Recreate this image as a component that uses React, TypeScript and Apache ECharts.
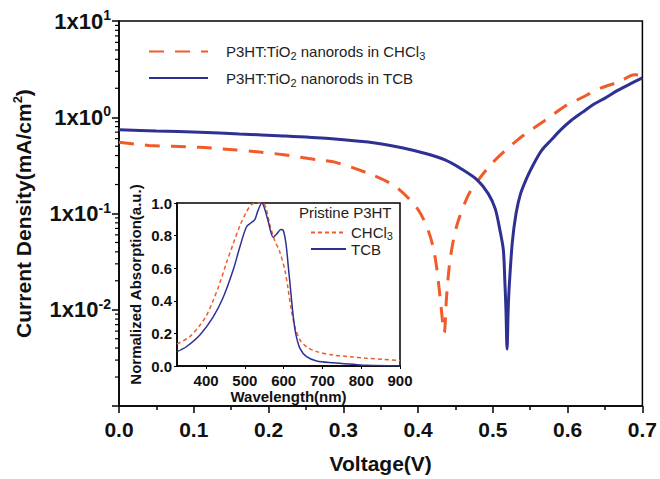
import React, { useEffect, useRef } from 'react';
import * as echarts from 'echarts';

const FONT = '"Liberation Sans", Arial, Helvetica, sans-serif';
const ORANGE = '#F15A29';
const BLUE = '#2E3192';

const NAME_CHCL3 = 'P3HT:TiO2 nanorods in CHCl3';
const NAME_TCB = 'P3HT:TiO2 nanorods in TCB';
const INSET_CHCL3 = 'CHCl3';
const INSET_TCB = 'TCB';

// Main J-V curves (V, |J| in mA/cm^2)
const voltageCHCl3 = [0.0, 0.04, 0.072, 0.108, 0.152, 0.188, 0.218, 0.267, 0.29, 0.334, 0.37, 0.4, 0.414, 0.42, 0.425, 0.4295, 0.435, 0.438, 0.443, 0.452, 0.467, 0.48, 0.5, 0.534, 0.569, 0.6, 0.614, 0.645, 0.67, 0.689, 0.7];
const currentCHCl3 = [0.55, 0.51, 0.5, 0.487, 0.46, 0.435, 0.41, 0.36, 0.34, 0.26, 0.19, 0.11, 0.065, 0.045, 0.027, 0.0133, 0.0058, 0.0133, 0.034, 0.076, 0.154, 0.22, 0.34, 0.59, 0.92, 1.36, 1.53, 2.02, 2.35, 2.77, 2.7];

const voltageTCB = [0.0, 0.05, 0.108, 0.161, 0.22, 0.281, 0.347, 0.38, 0.41, 0.436, 0.458, 0.48, 0.494, 0.503, 0.509, 0.514, 0.516, 0.5175, 0.519, 0.5205, 0.522, 0.526, 0.531, 0.537, 0.545, 0.553, 0.565, 0.578, 0.59, 0.605, 0.62, 0.636, 0.65, 0.667, 0.685, 0.7];
const currentTCB = [0.74, 0.72, 0.7, 0.67, 0.64, 0.6, 0.535, 0.48, 0.42, 0.36, 0.29, 0.22, 0.16, 0.113, 0.07, 0.042, 0.02, 0.01, 0.0039, 0.01, 0.018, 0.05, 0.1, 0.16, 0.23, 0.31, 0.45, 0.58, 0.73, 0.93, 1.13, 1.38, 1.58, 1.9, 2.25, 2.57];

// Inset absorption spectra
const wavelengthCHCl3 = [325, 358, 384, 401, 418, 435, 452, 470, 487, 504, 517, 530, 547, 556, 564, 577, 590, 603, 612, 620, 629, 642, 659, 685, 728, 771, 814, 857, 900];
const absorptionCHCl3 = [0.135, 0.18, 0.25, 0.31, 0.4, 0.506, 0.63, 0.75, 0.86, 0.945, 0.99, 1.0, 1.0, 0.955, 0.87, 0.77, 0.7, 0.59, 0.465, 0.34, 0.24, 0.16, 0.118, 0.088, 0.067, 0.057, 0.047, 0.041, 0.033];

const wavelengthTCB = [325, 349, 384, 418, 444, 470, 487, 504, 517, 526, 534, 544, 551, 560, 573, 582, 593, 599, 606, 612, 618, 624, 631, 642, 659, 685, 728, 780, 814, 900];
const absorptionTCB = [0.088, 0.118, 0.19, 0.3, 0.42, 0.59, 0.73, 0.853, 0.88, 0.9, 0.955, 1.0, 0.965, 0.89, 0.79, 0.81, 0.837, 0.833, 0.75, 0.61, 0.465, 0.32, 0.2, 0.108, 0.057, 0.031, 0.02, 0.01, 0.004, 0.0];

const logMinorTicks = [0.002, 0.003, 0.004, 0.005, 0.006, 0.007, 0.008, 0.009, 0.02, 0.03, 0.04, 0.05, 0.06, 0.07, 0.08, 0.09, 0.2, 0.3, 0.4, 0.5, 0.6, 0.7, 0.8, 0.9, 2, 3, 4, 5, 6, 7, 8, 9];
const wavelengthTicks = [400, 500, 600, 700, 800, 900];

const zip = (xs: number[], ys: number[]) => xs.map((x, i) => [x, ys[i]]);

export default function App() {
  const ref = useRef<HTMLDivElement>(null);
  useEffect(() => {
    if (!ref.current) return;
    const chart = echarts.init(ref.current, null, { renderer: 'svg' });
    const option: any = {
      animation: false,
      backgroundColor: '#fff',
      textStyle: { fontFamily: FONT },
      grid: [
        { left: 119, right: 15, top: 21, bottom: 71, show: true, borderColor: '#000', borderWidth: 1.5, backgroundColor: 'transparent' },
        { left: 177, right: 260, top: 203, bottom: 113, show: true, borderColor: '#000', borderWidth: 1.5, backgroundColor: '#fff' },
      ],
      legend: [
        {
          data: [NAME_CHCL3, NAME_TCB],
          orient: 'vertical',
          left: 143,
          top: 39,
          itemWidth: 59,
          itemHeight: 14,
          itemGap: 9,
          itemStyle: { opacity: 0 },
          textStyle: {
            padding: [0, 0, 0, 13],
            rich: {
              a: { fontSize: 15, lineHeight: 20, color: '#222', fontFamily: FONT },
              sub: { fontSize: 11, lineHeight: 11, verticalAlign: 'bottom', color: '#222', fontFamily: FONT },
            },
          },
          formatter: (name: string) =>
            name === NAME_CHCL3
              ? '{a|P3HT:TiO}{sub|2}{a| nanorods in CHCl}{sub|3}'
              : '{a|P3HT:TiO}{sub|2}{a| nanorods in TCB}',
        },
        {
          data: [INSET_CHCL3, INSET_TCB],
          orient: 'vertical',
          left: 305,
          top: 220,
          itemWidth: 35,
          itemHeight: 10,
          itemGap: 0,
          itemStyle: { opacity: 0 },
          textStyle: {
            padding: [0, 0, 0, 0],
            rich: {
              a: { fontSize: 15, lineHeight: 18, color: '#222', fontFamily: FONT },
              sub: { fontSize: 11, lineHeight: 11, verticalAlign: 'bottom', color: '#222', fontFamily: FONT },
            },
          },
          formatter: (name: string) => (name === INSET_CHCL3 ? '{a|CHCl}{sub|3}' : '{a|TCB}'),
        },
      ],
      graphic: [
        {
          type: 'text',
          left: 299,
          top: 205,
          style: { text: 'Pristine P3HT', fontSize: 15, fontFamily: FONT, fill: '#222' },
        },
      ],
      xAxis: [
        {
          gridIndex: 0,
          type: 'value',
          min: 0,
          max: 0.7,
          interval: 0.1,
          name: 'Voltage(V)',
          nameLocation: 'middle',
          nameGap: 47,
          nameTextStyle: { fontSize: 21, fontWeight: 'bold', color: '#111', fontFamily: FONT },
          axisLine: { onZero: false, lineStyle: { color: '#000', width: 1.5 } },
          axisTick: { length: 7, lineStyle: { color: '#000', width: 1.5 } },
          minorTick: { show: true, splitNumber: 2, length: 4, lineStyle: { color: '#000', width: 1.5 } },
          splitLine: { show: false },
          axisLabel: { margin: 13, fontSize: 21, fontWeight: 'bold', color: '#111', fontFamily: FONT, formatter: (v: number) => v.toFixed(1) },
        },
        {
          gridIndex: 1,
          type: 'value',
          min: 325,
          max: 900,
          name: 'Wavelength(nm)',
          nameLocation: 'middle',
          nameGap: 21,
          nameTextStyle: { fontSize: 15, fontWeight: 'bold', color: '#111', fontFamily: FONT },
          axisLine: { onZero: false, lineStyle: { color: '#000', width: 1.5 } },
          axisTick: { show: true, length: 3, customValues: wavelengthTicks, lineStyle: { color: '#000' } },
          splitLine: { show: false },
          axisLabel: { margin: 7, fontSize: 15, fontWeight: 'bold', color: '#111', fontFamily: FONT, customValues: wavelengthTicks },
        },
      ],
      yAxis: [
        {
          gridIndex: 0,
          type: 'log',
          logBase: 10,
          min: 0.001,
          max: 10,
          name: '{a|Current Density(mA/cm}{s|2}{a|)}',
          nameLocation: 'middle',
          nameGap: 84,
          nameTextStyle: {
            rich: {
              a: { fontSize: 21, fontWeight: 'bold', lineHeight: 24, color: '#111', fontFamily: FONT },
              s: { fontSize: 13, fontWeight: 'bold', lineHeight: 13, verticalAlign: 'top', color: '#111', fontFamily: FONT },
            },
          },
          axisLine: { onZero: false, lineStyle: { color: '#000', width: 1.5 } },
          axisTick: { length: 7, lineStyle: { color: '#000', width: 1.5 } },
          splitLine: { show: false },
          axisLabel: {
            margin: 8,
            formatter: (v: number) => {
              const e = Math.round(Math.log10(v));
              if (e <= -3) return '';
              return `{b|1x10}{s|${e}}`;
            },
            rich: {
              b: { fontSize: 22, fontWeight: 'bold', lineHeight: 26, color: '#111', fontFamily: FONT },
              s: { fontSize: 14, fontWeight: 'bold', lineHeight: 14, verticalAlign: 'top', color: '#111', fontFamily: FONT },
            },
          },
        },
        {
          gridIndex: 1,
          type: 'value',
          min: 0,
          max: 1,
          interval: 0.2,
          name: 'Normalized Absorption(a.u.)',
          nameLocation: 'middle',
          nameGap: 34,
          nameTextStyle: { fontSize: 15, fontWeight: 'bold', color: '#111', fontFamily: FONT },
          axisLine: { onZero: false, lineStyle: { color: '#000', width: 1.5 } },
          axisTick: { length: 3, lineStyle: { color: '#000' } },
          splitLine: { show: false },
          axisLabel: { margin: 5, fontSize: 15, fontWeight: 'bold', color: '#111', fontFamily: FONT, formatter: (v: number) => v.toFixed(1) },
        },
      ],
      series: [
        {
          name: NAME_CHCL3,
          type: 'line',
          xAxisIndex: 0,
          yAxisIndex: 0,
          symbol: 'none',
          smooth: 0.3,
          data: zip(voltageCHCl3, currentCHCl3),
          lineStyle: { color: ORANGE, width: 3, type: [15, 11] },
          itemStyle: { color: ORANGE },
          z: 3,
        },
        {
          name: NAME_TCB,
          type: 'line',
          xAxisIndex: 0,
          yAxisIndex: 0,
          symbol: 'none',
          smooth: 0.3,
          data: zip(voltageTCB, currentTCB),
          lineStyle: { color: BLUE, width: 3 },
          itemStyle: { color: BLUE },
          z: 3,
        },
        {
          name: INSET_CHCL3,
          type: 'line',
          xAxisIndex: 1,
          yAxisIndex: 1,
          symbol: 'none',
          smooth: 0.3,
          data: zip(wavelengthCHCl3, absorptionCHCl3),
          lineStyle: { color: ORANGE, width: 1.5, type: [4, 3] },
          itemStyle: { color: ORANGE },
          z: 4,
        },
        {
          name: INSET_TCB,
          type: 'line',
          xAxisIndex: 1,
          yAxisIndex: 1,
          symbol: 'none',
          smooth: 0.3,
          data: zip(wavelengthTCB, absorptionTCB),
          lineStyle: { color: BLUE, width: 1.5 },
          itemStyle: { color: BLUE },
          z: 4,
        },
        {
          name: 'logMinorTicks',
          type: 'custom',
          xAxisIndex: 0,
          yAxisIndex: 0,
          silent: true,
          clip: false,
          data: logMinorTicks.map((v) => [0, v]),
          renderItem: (_params: any, api: any) => {
            const p = api.coord([0, api.value(1)]);
            return {
              type: 'line',
              shape: { x1: p[0] - 4, y1: p[1], x2: p[0], y2: p[1] },
              style: { stroke: '#000', lineWidth: 1.2 },
            };
          },
        },
      ],
    };
    chart.setOption(option);
    return () => chart.dispose();
  }, []);
  return <div ref={ref} style={{ position: 'absolute', left: 0, top: 0, width: 660, height: 479 }} />;
}
